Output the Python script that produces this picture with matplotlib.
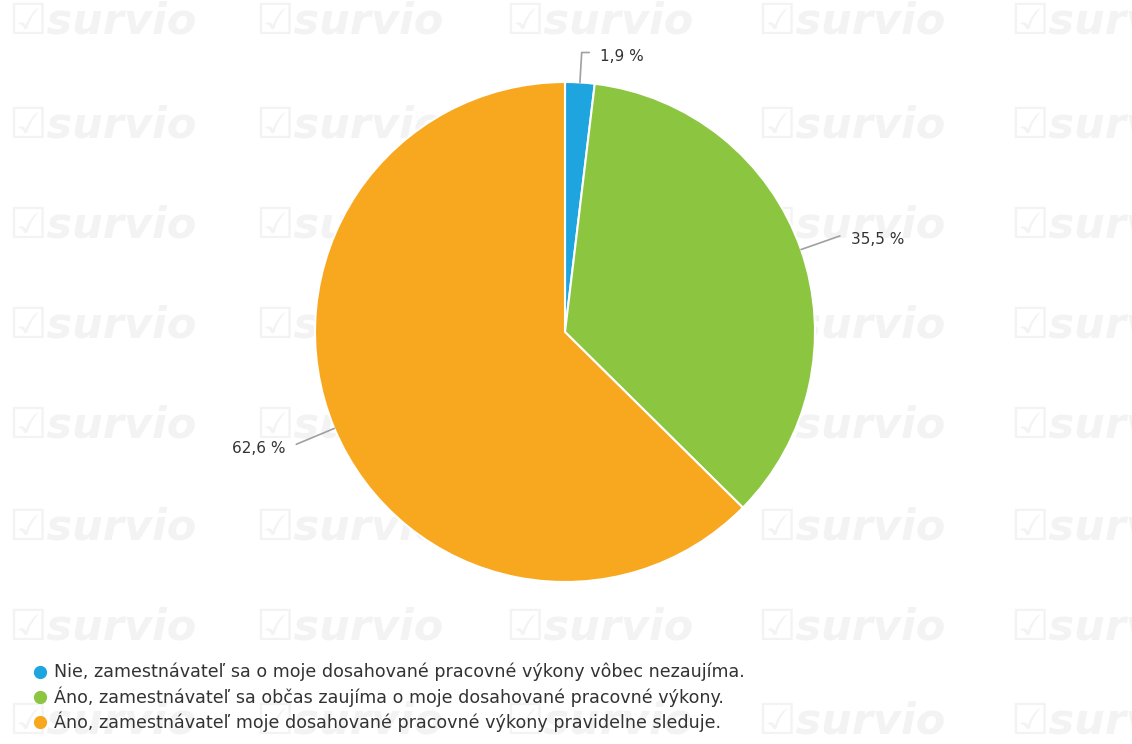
import numpy as np
import matplotlib
matplotlib.use("Agg")
import matplotlib.pyplot as plt
from matplotlib.lines import Line2D

# Survey answers and their shares (percent)
categories = [
    "Nie, zamestnávateľ sa o moje dosahované pracovné výkony vôbec nezaujíma.",
    "Áno, zamestnávateľ sa občas zaujíma o moje dosahované pracovné výkony.",
    "Áno, zamestnávateľ moje dosahované pracovné výkony pravidelne sleduje.",
]
shares = [1.9, 35.5, 62.6]
value_labels = ["1,9 %", "35,5 %", "62,6 %"]
colors = ["#1ea5e0", "#8cc540", "#f8a81f"]

W, H = 1132, 744
fig = plt.figure(figsize=(W / 100, H / 100), dpi=100)
fig.patch.set_facecolor("white")

# Background layer with a faint tiled watermark
bg = fig.add_axes([0, 0, 1, 1], zorder=0)
bg.set_xlim(0, W)
bg.set_ylim(H, 0)
bg.axis("off")
wm_cols = [8, 255, 505, 757, 1010]
wm_rows = [22, 125, 225, 325, 425, 528, 628, 722]
for yy in wm_rows:
    for xx in wm_cols:
        bg.text(xx, yy, "☑survio", fontsize=31, fontweight="bold",
                fontstyle="italic", color="#f3f3f3", ha="left", va="center",
                family="DejaVu Sans", clip_on=True)

# Pie axes: centre (565, 332) px, radius 250 px
cx, cy, r = 565, 332, 250
ax = fig.add_axes([(cx - r) / W, (H - cy - r) / H, 2 * r / W, 2 * r / H], zorder=1)
ax.patch.set_alpha(0)

wedges, _ = ax.pie(shares, colors=colors, startangle=90, counterclock=False,
                   radius=1.0, wedgeprops=dict(edgecolor="white", linewidth=1.5))
ax.set_xlim(-1, 1)
ax.set_ylim(-1, 1)
ax.set_aspect("equal")
ax.axis("off")

# Value labels with leader lines
for w, lab in zip(wedges, value_labels):
    ang = np.deg2rad((w.theta1 + w.theta2) / 2)
    c, s = np.cos(ang), np.sin(ang)
    rr = 1.12 if abs(s) > 0.9 else 1.165
    p1 = (c, s)
    p2 = (rr * c, rr * s)
    side = 1 if c >= 0 else -1
    hx = 0.03 if abs(s) > 0.9 else 0.0
    p3 = (p2[0] + side * hx, p2[1])
    ax.plot([p1[0], p2[0], p3[0]], [p1[1], p2[1], p3[1]], color="#a0a0a0",
            lw=1.2, clip_on=False, solid_capstyle="round")
    ax.text(p3[0] + side * 0.045, p3[1] - 0.015, lab,
            ha="left" if side > 0 else "right",
            va="center", fontsize=11, color="#333333", clip_on=False)

# Legend at the bottom left
for i, (lab, col) in enumerate(zip(categories, colors)):
    yy = 1 - (672 + 25 * i) / H
    fig.add_artist(Line2D([40 / W], [yy], marker="o", markersize=8.5,
                          color=col, markeredgecolor=col, linestyle="none",
                          transform=fig.transFigure, zorder=3))
    fig.text(54 / W, yy, lab, ha="left", va="center", fontsize=12.6,
             color="#333333", family="DejaVu Sans", zorder=3)

fig.savefig("out.png", dpi=100, facecolor="white")
